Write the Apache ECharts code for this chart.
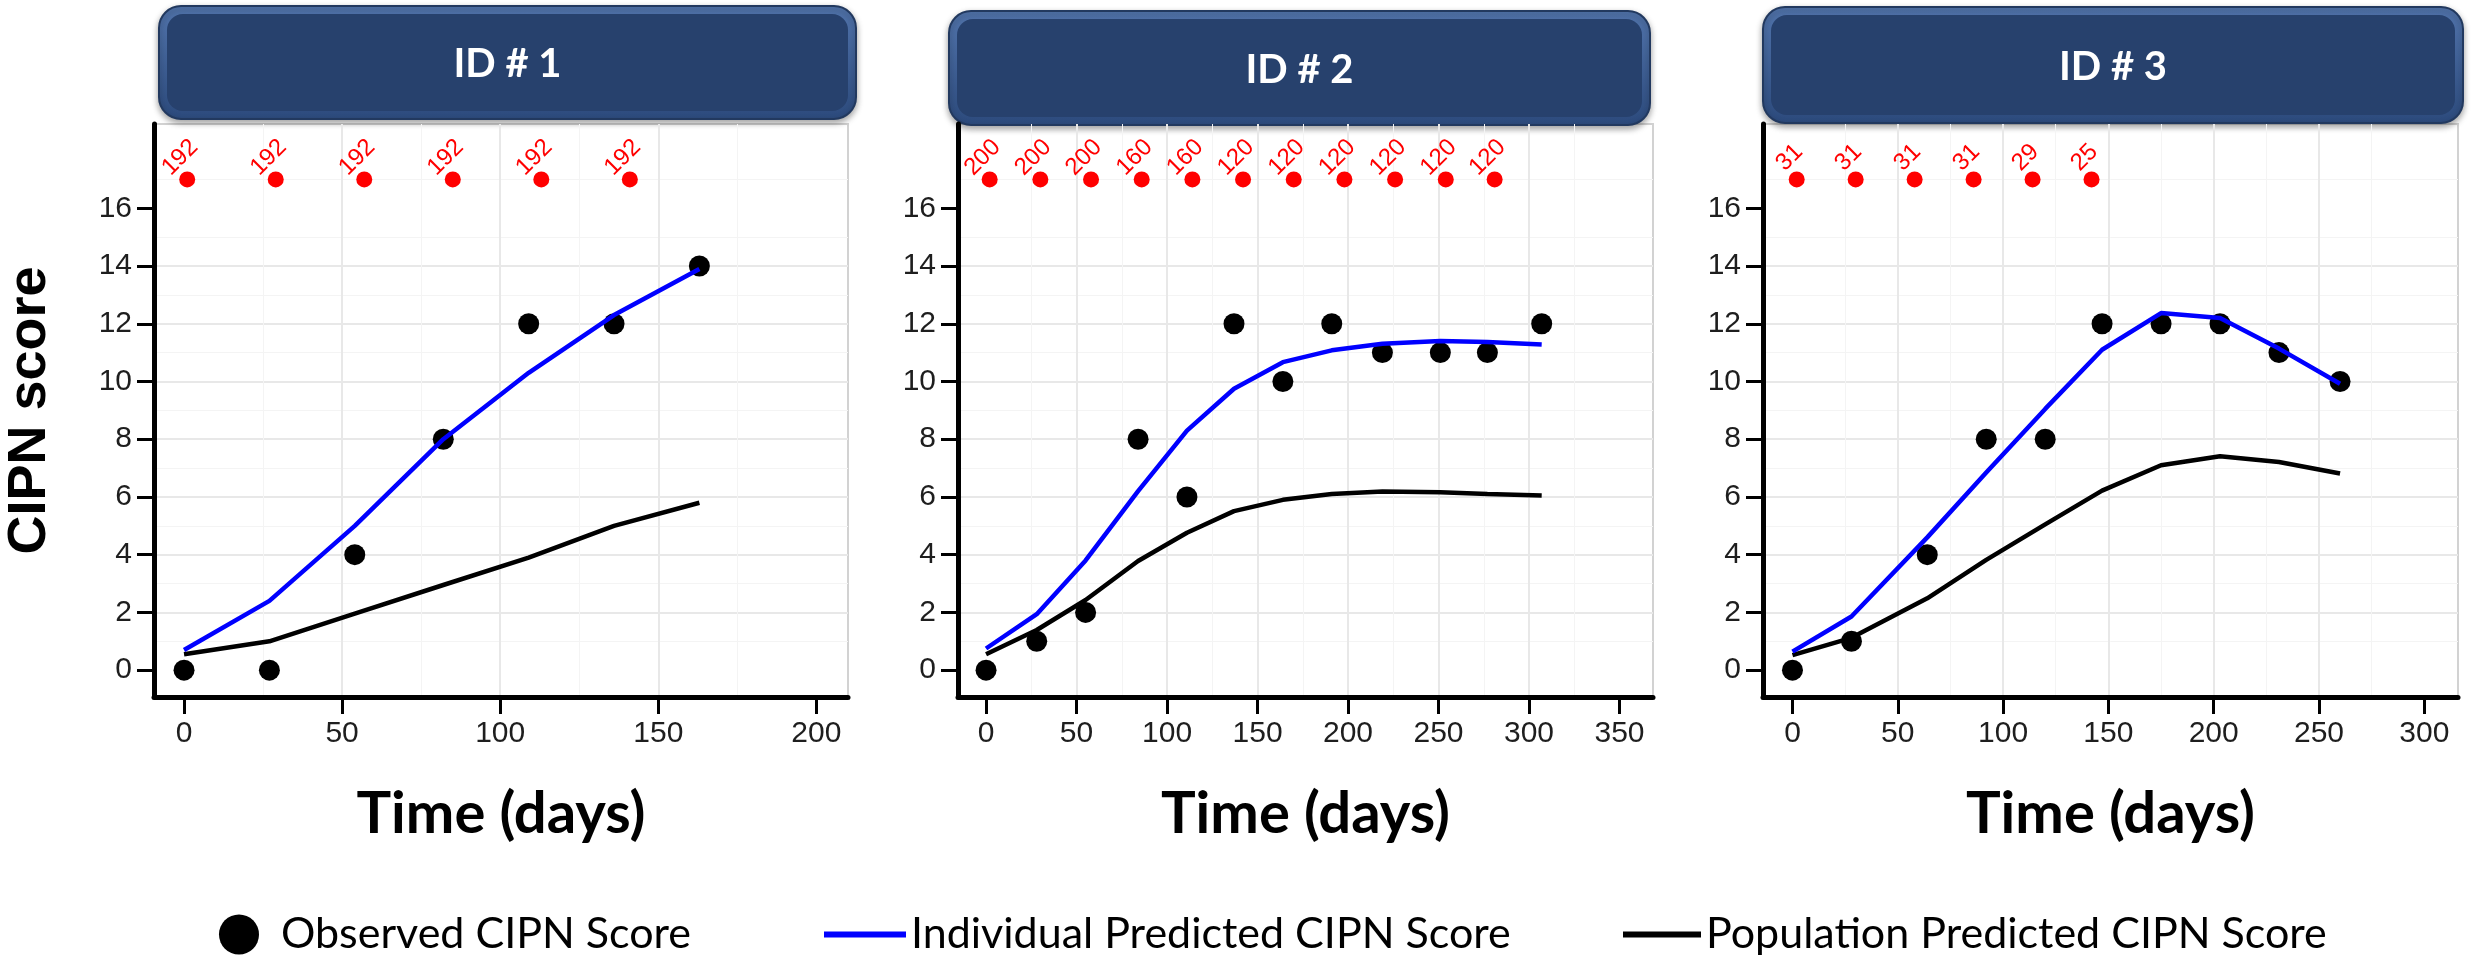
<!DOCTYPE html>
<html lang="en">
<head>
    <meta charset="UTF-8">
    <title>CIPN score</title>
    <style>
        html, body { margin: 0; padding: 0; background: #ffffff; }
        #container { width: 2478px; height: 961px; }
    </style>
</head>
<body>
<div id="container"></div>
<script src="https://cdn.jsdelivr.net/npm/echarts@6.0.0/dist/echarts.min.js"></script>
<script>
    // ID # 1
    var id1Days = [0, 27, 54, 82, 109, 136, 163];
    var id1Observed = [0, 0, 4, 8, 12, 12, 14];
    var id1Individual = [0.7, 2.4, 5.0, 8.0, 10.3, 12.3, 13.9];
    var id1Population = [0.55, 1.0, 1.96, 2.95, 3.9, 5.0, 5.8];
    var id1DoseDays = [1, 29, 57, 85, 113, 141];
    var id1Doses = ['192', '192', '192', '192', '192', '192'];

    // ID # 2
    var id2Days = [0, 28, 55, 84, 111, 137, 164, 191, 219, 251, 277, 307];
    var id2Observed = [0, 1, 2, 8, 6, 12, 10, 12, 11, 11, 11, 12];
    var id2Individual = [0.75, 1.94, 3.8, 6.2, 8.3, 9.75, 10.67, 11.08, 11.31, 11.4, 11.37, 11.28];
    var id2Population = [0.55, 1.39, 2.43, 3.78, 4.76, 5.51, 5.9, 6.1, 6.19, 6.16, 6.1, 6.05];
    var id2DoseDays = [2, 30, 58, 86, 114, 142, 170, 198, 226, 254, 281];
    var id2Doses = ['200', '200', '200', '160', '160', '120', '120', '120', '120', '120', '120'];

    // ID # 3
    var id3Days = [0, 28, 64, 92, 120, 147, 175, 203, 231, 260];
    var id3Observed = [0, 1, 4, 8, 8, 12, 12, 12, 11, 10];
    var id3Individual = [0.64, 1.86, 4.6, 6.85, 9.05, 11.1, 12.37, 12.2, 11.14, 9.92];
    var id3Population = [0.52, 1.12, 2.49, 3.82, 5.05, 6.22, 7.1, 7.41, 7.21, 6.81];
    var id3DoseDays = [2, 30, 58, 86, 114, 142];
    var id3Doses = ['31', '31', '31', '31', '29', '25'];

    var doseMarkLevel = 17;
    var panelTitles = ['ID # 1', 'ID # 2', 'ID # 3'];
    var id1XTicks = [0, 50, 100, 150, 200];
    var id2XTicks = [0, 50, 100, 150, 200, 250, 300, 350];
    var id3XTicks = [0, 50, 100, 150, 200, 250, 300];
    var yTicks = [0, 2, 4, 6, 8, 10, 12, 14, 16];

    var chart = echarts.init(document.getElementById('container'));

    function pairs(xs, ys) {
        return xs.map(function (x, i) { return [x, ys[i]]; });
    }

    var panels = [
        {days: id1Days, obs: id1Observed, ipred: id1Individual, pred: id1Population,
            doseDays: id1DoseDays, doses: id1Doses, ticks: id1XTicks, min: -9.5, max: 210,
            left: 154, width: 694, box: [158, 5, 697, 113]},
        {days: id2Days, obs: id2Observed, ipred: id2Individual, pred: id2Population,
            doseDays: id2DoseDays, doses: id2Doses, ticks: id2XTicks, min: -15.5, max: 368.5,
            left: 958, width: 695, box: [948, 10, 701, 114]},
        {days: id3Days, obs: id3Observed, ipred: id3Individual, pred: id3Population,
            doseDays: id3DoseDays, doses: id3Doses, ticks: id3XTicks, min: -14, max: 316,
            left: 1763, width: 695, box: [1762, 6, 700, 116]}
    ];

    var tickFont = 'Liberation Sans, Arial, sans-serif';
    var grids = [], xAxes = [], yAxes = [], series = [], graphics = [];

    panels.forEach(function (p, i) {
        grids.push({
            left: p.left, top: 124, width: p.width, height: 573,
            show: true, backgroundColor: '#ffffff', borderColor: '#d2d2d2', borderWidth: 2
        });
        xAxes.push({
            type: 'value', gridIndex: i, min: p.min, max: p.max,
            minInterval: 50, maxInterval: 50,
            name: 'Time (days)', nameLocation: 'middle', nameGap: 88,
            nameTextStyle: {fontFamily: 'Lato', fontWeight: 'bold', fontSize: 58, color: '#000'},
            axisLine: {show: true, onZero: false, lineStyle: {color: '#000', width: 5}},
            axisTick: {show: true, length: 17, customValues: p.ticks, lineStyle: {color: '#000', width: 3}},
            axisLabel: {customValues: p.ticks, margin: 22, fontSize: 30, color: '#1e1e1e', fontFamily: tickFont},
            splitLine: {show: true, showMinLine: false, showMaxLine: false, lineStyle: {color: '#e8e8e8', width: 2}},
            minorTick: {show: false, splitNumber: 2},
            minorSplitLine: {show: true, lineStyle: {color: '#f4f4f4', width: 1}}
        });
        yAxes.push({
            type: 'value', gridIndex: i, min: -0.93, max: 18.92,
            minInterval: 2, maxInterval: 2,
            name: i === 0 ? 'CIPN score' : '', nameLocation: 'middle', nameGap: 97,
            nameTextStyle: {fontFamily: 'Liberation Sans', fontWeight: 'bold', fontSize: 54, color: '#000'},
            axisLine: {show: true, onZero: false, lineStyle: {color: '#000', width: 5}},
            axisTick: {show: true, length: 17, customValues: yTicks, lineStyle: {color: '#000', width: 3}},
            axisLabel: {customValues: yTicks, margin: 22, fontSize: 30, color: '#1e1e1e', fontFamily: tickFont},
            splitLine: {show: true, showMinLine: false, showMaxLine: false, lineStyle: {color: '#e8e8e8', width: 2}},
            minorTick: {show: false, splitNumber: 2},
            minorSplitLine: {show: true, lineStyle: {color: '#f4f4f4', width: 1}}
        });

        series.push({
            name: 'Observed CIPN Score', type: 'scatter', xAxisIndex: i, yAxisIndex: i,
            data: pairs(p.days, p.obs), symbolSize: 21,
            itemStyle: {color: '#000', opacity: 1}, z: 2
        });
        series.push({
            name: 'Population Predicted CIPN Score', type: 'line', xAxisIndex: i, yAxisIndex: i,
            data: pairs(p.days, p.pred), symbol: 'none', color: '#000',
            lineStyle: {color: '#000', width: 4.5}, z: 3
        });
        series.push({
            name: 'Individual Predicted CIPN Score', type: 'line', xAxisIndex: i, yAxisIndex: i,
            data: pairs(p.days, p.ipred), symbol: 'none', color: '#0000ff',
            lineStyle: {color: '#0000ff', width: 4.5}, z: 4
        });
        series.push({
            name: 'dose', type: 'scatter', xAxisIndex: i, yAxisIndex: i,
            data: p.doseDays.map(function (d, k) { return [d, doseMarkLevel, p.doses[k]]; }),
            symbolSize: 16, itemStyle: {color: '#ff0000', opacity: 1}, z: 5,
            label: {
                show: true, position: 'top', distance: 4, offset: [2, 0], rotate: 45,
                formatter: function (prm) { return prm.value[2]; },
                color: '#ff0000', fontSize: 24, fontFamily: tickFont
            }
        });

        // header box above each panel
        var b = p.box;
        graphics.push({
            type: 'group', left: b[0], top: b[1],
            children: [{
                type: 'rect', shape: {x: 0, y: 0, width: b[2], height: b[3], r: 22},
                style: {
                    fill: new echarts.graphic.LinearGradient(0, 0, 0, 1, [
                        {offset: 0, color: '#5275ad'}, {offset: 1, color: '#2c4a7c'}]),
                    stroke: '#22395f', lineWidth: 2,
                    shadowBlur: 6, shadowColor: 'rgba(0,0,0,0.35)', shadowOffsetY: 3
                }
            }, {
                type: 'rect', shape: {x: 8, y: 8, width: b[2] - 16, height: b[3] - 16, r: 16},
                style: {fill: '#27416d'}
            }, {
                type: 'text', x: b[2] / 2, y: b[3] / 2 + 2,
                style: {
                    text: panelTitles[i], fill: '#ffffff', font: 'bold 40px Lato',
                    textAlign: 'center', textVerticalAlign: 'middle'
                }
            }]
        });
    });

    var legendText = {fontFamily: 'Lato', fontSize: 43, color: '#000'};

    var option = {
        backgroundColor: '#ffffff',
        animation: false,
        grid: grids,
        xAxis: xAxes,
        yAxis: yAxes,
        legend: [{
            data: [{name: 'Observed CIPN Score', icon: 'circle'}],
            left: 219, top: 913, padding: 0, itemWidth: 74, itemHeight: 40,
            itemStyle: {opacity: 1}, selectedMode: false, textStyle: legendText
        }, {
            data: [{name: 'Individual Predicted CIPN Score', icon: 'rect'}],
            left: 824, top: 913, padding: 0, itemWidth: 82, itemHeight: 6,
            selectedMode: false, textStyle: legendText
        }, {
            data: [{name: 'Population Predicted CIPN Score', icon: 'rect'}],
            left: 1623, top: 913, padding: 0, itemWidth: 78, itemHeight: 6,
            selectedMode: false, textStyle: legendText
        }],
        series: series,
        graphic: graphics
    };

    chart.setOption(option);
</script>
</body>
</html>
